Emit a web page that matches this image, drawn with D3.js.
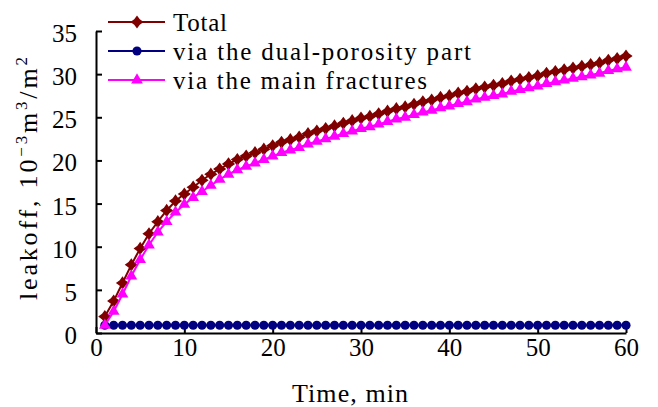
<!DOCTYPE html>
<html>
<head>
    <title></title>
    <script src="https://d3js.org/d3.v7.min.js"></script>
    <style>
        body { margin: 0; background: #fff; }
        text { fill: #000; }
    </style>
</head>
<body>
    <svg id="chart" width="658" height="407"></svg>

    <script>
    // minutes 1..60
    let minutes = d3.range(1, 61);

    // leakoff, 10^-3 m3/m2
    let total = [1.9, 3.7, 5.8, 7.9, 9.8, 11.5, 12.9, 14.2, 15.3, 16.1,
                 16.9, 17.7, 18.4, 19.0, 19.6, 20.1, 20.5, 20.9, 21.3, 21.7,
                 22.1, 22.4, 22.7, 23.1, 23.4, 23.7, 24.0, 24.3, 24.6, 24.9,
                 25.1, 25.4, 25.7, 26.0, 26.2, 26.5, 26.8, 27.0, 27.3, 27.5,
                 27.8, 28.0, 28.3, 28.5, 28.7, 28.9, 29.2, 29.4, 29.6, 29.8,
                 30.1, 30.3, 30.5, 30.7, 30.9, 31.1, 31.3, 31.6, 31.8, 32.1];
    let dual = [0.9, 0.9, 0.9, 0.9, 0.9, 0.9, 0.9, 0.9, 0.9, 0.9,
                0.9, 0.9, 0.9, 0.9, 0.9, 0.9, 0.9, 0.9, 0.9, 0.9,
                0.9, 0.9, 0.9, 0.9, 0.9, 0.9, 0.9, 0.9, 0.9, 0.9,
                0.9, 0.9, 0.9, 0.9, 0.9, 0.9, 0.9, 0.9, 0.9, 0.9,
                0.9, 0.9, 0.9, 0.9, 0.9, 0.9, 0.9, 0.9, 0.9, 0.9,
                0.9, 0.9, 0.9, 0.9, 0.9, 0.9, 0.9, 0.9, 0.9, 0.9];
    let mainFrac = [0.9, 2.5, 4.5, 6.6, 8.5, 10.2, 11.7, 12.9, 14.0, 14.9,
                    15.7, 16.4, 17.1, 17.8, 18.4, 18.9, 19.3, 19.7, 20.1, 20.5,
                    20.9, 21.2, 21.5, 21.9, 22.2, 22.5, 22.8, 23.1, 23.4, 23.7,
                    23.9, 24.2, 24.5, 24.8, 25.0, 25.3, 25.6, 25.8, 26.1, 26.3,
                    26.6, 26.8, 27.1, 27.3, 27.5, 27.7, 28.0, 28.2, 28.4, 28.6,
                    28.9, 29.1, 29.3, 29.5, 29.7, 29.9, 30.1, 30.4, 30.6, 30.8];

    let xTicks = [0, 10, 20, 30, 40, 50, 60];
    let yTicks = [0, 5, 10, 15, 20, 25, 30, 35];

    let serif = "Liberation Serif";

    // 4-point star marker
    let star4 = {
        draw: function(ctx, size) {
            let r = Math.sqrt(size) * 0.75, q = r * 0.42;
            ctx.moveTo(0, -r);
            ctx.lineTo(q, -q); ctx.lineTo(r, 0); ctx.lineTo(q, q);
            ctx.lineTo(0, r); ctx.lineTo(-q, q); ctx.lineTo(-r, 0);
            ctx.lineTo(-q, -q); ctx.closePath();
        }
    };

    let series = [
        { name: "Total", values: total, color: "#800000", sym: star4, size: 78, len: 54 },
        { name: "via the dual-porosity part", values: dual, color: "#000080", sym: d3.symbolCircle, size: 66, len: 298 },
        { name: "via the main fractures", values: mainFrac, color: "#ff00ff", sym: d3.symbolTriangle, size: 60, len: 254 }
    ];

    let svg = d3.select("#chart");

    let x = d3.scaleLinear().domain([0, 60]).range([96, 626]);
    let y = d3.scaleLinear().domain([0, 35]).range([333, 31]);

    // axes, ticks pointing inward
    let xAxis = d3.axisBottom(x).tickValues(xTicks).tickSizeInner(-6).tickSizeOuter(0).tickPadding(5);
    let yAxis = d3.axisLeft(y).tickValues(yTicks).tickSizeInner(-6).tickSizeOuter(0).tickPadding(19);

    let gx = svg.append("g").attr("transform", "translate(0,333)").call(xAxis);
    let gy = svg.append("g").attr("transform", "translate(96,0)").call(yAxis);
    [gx, gy].forEach(g => {
        g.select(".domain").attr("stroke", "#000").attr("stroke-width", 2);
        g.selectAll(".tick line").attr("stroke", "#000").attr("stroke-width", 2);
        g.selectAll("text").attr("font-family", serif).attr("font-size", 25).attr("fill", "#000");
    });
    gx.selectAll(".tick text").attr("dy", "0.71em");
    gy.selectAll(".tick text").attr("dy", "0.42em");

    let line = d3.line().x((d, i) => x(minutes[i])).y(d => y(d));

    series.forEach(s => {
        svg.append("path")
            .attr("d", line(s.values))
            .attr("fill", "none")
            .attr("stroke", s.color)
            .attr("stroke-width", 2);
        svg.append("g").selectAll("path")
            .data(s.values)
            .enter().append("path")
            .attr("d", d3.symbol().type(s.sym).size(s.size))
            .attr("fill", s.color)
            .attr("transform", (d, i) => "translate(" + x(minutes[i]) + "," + y(d) + ")");
    });

    // legend
    let leg = svg.append("g").selectAll("g")
        .data(series)
        .enter().append("g")
        .attr("transform", (d, i) => "translate(108," + [22, 51, 80][i] + ")");
    leg.append("line").attr("x1", 0).attr("x2", 57)
        .attr("stroke", d => d.color).attr("stroke-width", 2);
    leg.append("path")
        .attr("d", d => d3.symbol().type(d.sym).size(d.size)())
        .attr("fill", d => d.color)
        .attr("transform", "translate(29,0)");
    leg.append("text")
        .attr("x", 65).attr("y", 9)
        .attr("font-family", serif)
        .attr("font-size", 25)
        .attr("textLength", d => d.len)
        .attr("lengthAdjust", "spacing")
        .text(d => d.name);

    // axis titles
    svg.append("text")
        .attr("x", 292).attr("y", 402)
        .attr("font-family", serif)
        .attr("font-size", 26)
        .attr("textLength", 116)
        .attr("lengthAdjust", "spacing")
        .text("Time, min");

    let yt = svg.append("text")
        .attr("transform", "translate(37,300) rotate(-90)")
        .attr("font-family", serif)
        .attr("font-size", 26)
        .attr("textLength", 243)
        .attr("lengthAdjust", "spacing");
    yt.append("tspan").text("leakoff,  10");
    yt.append("tspan").attr("font-size", 17).attr("dy", -10).text("\u22123");
    yt.append("tspan").attr("dy", 10).text("m");
    yt.append("tspan").attr("font-size", 17).attr("dy", -10).text("3");
    yt.append("tspan").attr("dy", 10).text("/m");
    yt.append("tspan").attr("font-size", 17).attr("dy", -10).text("2");
    </script>
</body>
</html>
